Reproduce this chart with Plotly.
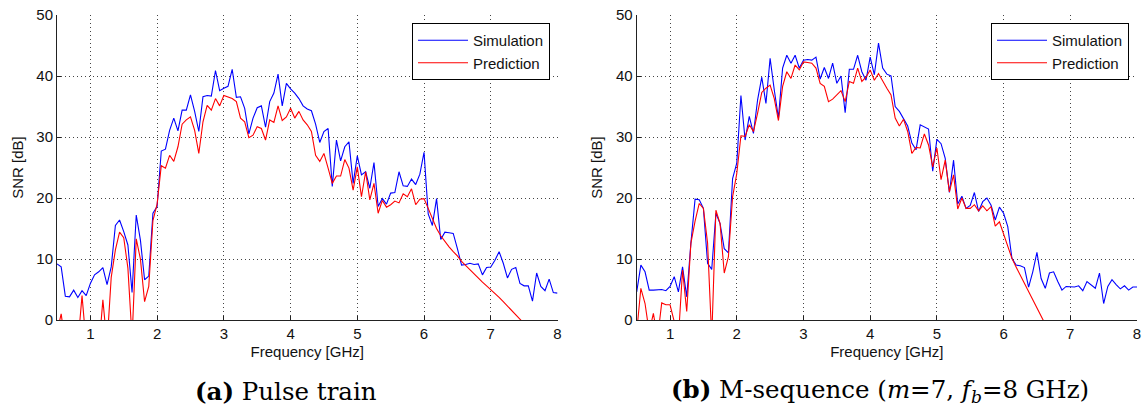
import numpy as np
import plotly.graph_objects as go

# Frequency grid (GHz), 1/16 GHz steps
freq = np.round(np.arange(0.5, 8.0 + 1e-9, 0.0625), 4).tolist()

# (a) Pulse train
pulse_sim = [
    9.2, 8.7, 3.9, 3.8, 4.9, 3.7, 4.8, 4.0, 6.0, 7.4, 7.9, 8.6, 5.8, 8.7, 15.5, 16.4,
    14.5, 12.3, 4.5, 17.2, 13.1, 6.6, 7.2, 17.5, 18.6,
    27.7, 28.0, 31.1, 33.1, 31.0, 34.4, 34.4, 36.9, 34.2, 30.9, 36.6, 36.8, 36.7, 40.9,
    37.6, 38.0, 38.3, 41.1, 36.5, 36.6, 34.7, 30.5, 33.1, 34.8, 35.1, 31.6, 35.8, 37.2,
    40.3, 35.1, 38.8, 37.9, 37.2, 36.3, 35.1, 34.6, 34.3, 32.1,
    29.1, 30.9, 31.4, 21.9, 29.5, 26.1, 28.4, 29.2, 22.4, 26.9,
    23.8, 24.3, 21.6, 25.8, 18.6, 19.9, 19.0, 20.8, 20.9, 24.3,
    22.0, 21.9, 23.1, 22.2, 23.9, 27.5, 17.4, 15.5, 19.9, 13.2,
    14.4, 14.3, 14.2, 11.7, 9.0, 9.1, 9.3, 9.1, 9.2, 7.4,
    8.6, 8.7, 9.8, 11.2, 9.3, 6.9, 8.3, 8.6, 6.0, 5.6,
    5.6, 3.1, 7.7, 5.5, 4.8, 6.7, 4.5, 4.4,
]
pulse_pred = [
    -2, 1.0, -4, -5, -5, -4, 4.0, -4, -6, -6, -5, 3.3, -4, 7.0, 11.5, 14.4,
    13.5, 8.5, -3, 13.3, 10.0, 3.0, 5.5, 16.3, 19.0,
    25.3, 24.9, 27.0, 26.0, 28.4, 32.1, 32.8, 33.3, 31.1, 27.3, 32.5, 35.2, 34.4, 36.3,
    35.1, 36.8, 36.5, 36.3, 35.8, 33.1, 32.5, 29.9, 30.3, 31.7, 31.4, 29.5, 32.8, 32.4,
    35.1, 32.7, 33.3, 34.7, 33.1, 34.2, 32.8, 32.0, 30.9, 27.0,
    26.0, 27.3, 24.9, 22.4, 23.6, 23.6, 26.3, 24.9, 21.3, 25.1,
    20.2, 24.3, 19.7, 22.4, 17.5, 19.6, 18.5, 18.9, 19.5, 19.2,
    20.7, 20.2, 21.5, 18.9, 19.8, 19.9, 18.3, 16.7, 15.0, 13.8,
    12.8, 12.0, 11.2, 10.5, 9.6, 8.9, 8.2, 7.5, 6.8, 6.2,
    5.6, 5.0, 4.4, 3.7, 3.0, 2.3, 1.6, 0.9, 0.3, -0.5,
    -1.3, -2.1, -2.9, -3.7, -4.5, -5.3, -6.1, -6.9,
]

# (b) M-sequence
mseq_sim = [
    4.6, 9.0, 7.9, 4.9, 4.9, 4.9, 5.0, 4.8, 5.5, 7.1, 4.6, 8.7, 3.8, 12.6, 19.8, 19.7,
    18.3, 9.3, 8.3, 17.5, 15.8, 11.7, 11.0, 23.2, 25.7,
    36.8, 29.5, 33.4, 30.6, 36.1, 39.8, 35.5, 42.9, 37.7, 33.1, 41.3, 43.4, 42.1, 43.4,
    41.3, 42.6, 42.7, 42.6, 43.1, 39.5, 41.4, 39.6, 42.1, 38.8, 40.0, 34.0, 41.1, 41.1,
    43.4, 40.7, 39.3, 43.1, 40.2, 45.4, 41.3, 40.3, 40.0, 35.0,
    34.2, 32.9, 31.8, 29.0, 27.9, 32.0, 31.6, 31.3, 24.4, 29.6,
    28.9, 26.5, 20.9, 26.2, 19.0, 20.3, 18.3, 18.8, 20.9, 17.8,
    19.4, 20.0, 18.8, 16.4, 18.5, 17.5, 15.3, 10.1, 9.0, 8.9,
    8.6, 5.4, 7.9, 11.1, 6.8, 5.2, 7.7, 7.9, 6.3, 4.9,
    5.5, 5.5, 5.4, 5.6, 4.8, 6.3, 5.8, 5.2, 7.7, 2.7,
    5.5, 6.6, 5.8, 5.1, 5.6, 4.9, 5.4, 5.4,
]
mseq_pred = [
    -2, 5.2, 2.7, -2, 1.1, -3, 2.8, 2.5, 2.5, 0.1, -3, 8.2, 1.4, 12.6, 16.2, 19.1,
    18.3, 12.6, -3, 18.0, 15.8, 7.7, 10.4, 20.2, 24.0,
    30.2, 30.1, 32.0, 30.9, 33.9, 37.3, 38.0, 38.5, 36.3, 32.7, 38.3, 40.7, 39.6, 41.8,
    41.0, 42.3, 42.2, 42.1, 41.3, 38.8, 38.3, 35.8, 36.2, 36.9, 37.6, 35.8, 39.1, 38.8,
    41.3, 39.1, 39.8, 41.0, 39.3, 40.4, 39.1, 38.0, 36.9, 33.1,
    31.8, 32.9, 30.9, 27.3, 28.3, 28.2, 30.5, 28.7, 25.1, 28.2,
    23.0, 26.2, 21.0, 23.8, 18.2, 20.0, 18.3, 18.3, 18.9, 17.9,
    18.7, 17.9, 18.6, 15.4, 16.1, 14.2, 12.0, 10.1, 8.7, 7.4,
    6.0, 4.6, 3.4, 2.1, 0.7, -0.7, -2.1, -3.5, -4.9, -6.3,
    -7.7, -9, -10, -11, -12, -13, -14, -15, -16, -17,
    -18, -19, -20, -21, -22, -23, -24, -25,
]

x_ticks = [1, 2, 3, 4, 5, 6, 7, 8]
y_ticks = [0, 10, 20, 30, 40, 50]
series_names = ["Simulation", "Prediction"]
captions = ["<b>(a)</b> Pulse train",
            "<b>(b)</b> M-sequence (<i>m</i>=7, <i>f<sub>b</sub></i>=8 GHz)"]

W, H = 1145, 409
ML, MR, MT, MB = 57, 8, 15, 89
PW, PH = W - ML - MR, H - MT - MB
BLUE, RED = "#0000ff", "#ff0000"
SANS = "Liberation Sans, Arial, sans-serif"


def px_x(px):
    return (px - ML) / PW


def px_y(py):
    return 1 - (py - MT) / PH


fig = go.Figure()
for i, (sim, pred) in enumerate([(pulse_sim, pulse_pred), (mseq_sim, mseq_pred)]):
    xa = "x" if i == 0 else "x2"
    ya = "y" if i == 0 else "y2"
    lg = "legend" if i == 0 else "legend2"
    fig.add_trace(go.Scatter(x=freq, y=sim, mode="lines", name=series_names[0],
                             line=dict(color=BLUE, width=1.1), xaxis=xa, yaxis=ya, legend=lg))
    fig.add_trace(go.Scatter(x=freq, y=pred, mode="lines", name=series_names[1],
                             line=dict(color=RED, width=1.1), xaxis=xa, yaxis=ya, legend=lg))


def xaxis(dom, anchor):
    return dict(domain=dom, anchor=anchor, range=[0.5, 8], tickvals=x_ticks,
                automargin=False,
                showline=True, linecolor="#222", linewidth=1,
                ticks="inside", ticklen=4, tickcolor="#222",
                showgrid=True, gridcolor="#444", gridwidth=1, griddash="1px,3px",
                zeroline=False, tickfont=dict(family=SANS, size=15, color="#111"),
                title=dict(text="Frequency [GHz]", font=dict(family=SANS, size=15, color="#111"),
                           standoff=5))


def yaxis(anchor):
    return dict(domain=[0, 1], anchor=anchor, range=[0, 50], tickvals=y_ticks,
                automargin=False,
                showline=True, linecolor="#222", linewidth=1,
                ticks="inside", ticklen=4, tickcolor="#222",
                showgrid=True, gridcolor="#444", gridwidth=1, griddash="1px,3px",
                zeroline=False, tickfont=dict(family=SANS, size=15, color="#111"),
                title=dict(text="SNR [dB]", font=dict(family=SANS, size=15, color="#111"),
                           standoff=9))


legend_common = dict(xanchor="right", yanchor="top", bgcolor="white", bordercolor="black",
                     borderwidth=1, font=dict(family=SANS, size=15, color="#111"),
                     tracegroupgap=0, itemwidth=50)

fig.update_layout(
    width=W, height=H, margin=dict(l=ML, r=MR, t=MT, b=MB, autoexpand=False),
    paper_bgcolor="white", plot_bgcolor="white",
    xaxis=xaxis([0, px_x(557.5)], "y"),
    yaxis=yaxis("x"),
    xaxis2=xaxis([px_x(636.7), 1], "y2"),
    yaxis2=yaxis("x2"),
    legend=dict(x=px_x(550), y=px_y(23), **legend_common),
    legend2=dict(x=px_x(1129), y=px_y(23), **legend_common),
    showlegend=True,
)

for cx, txt in zip([286, 880], captions):
    fig.add_annotation(x=px_x(cx), y=px_y(391), xref="paper", yref="paper", text=txt,
                       showarrow=False, xanchor="center", yanchor="middle",
                       font=dict(family="DejaVu Serif, serif", size=24.5, color="black"))

fig.write_html("out.html")
